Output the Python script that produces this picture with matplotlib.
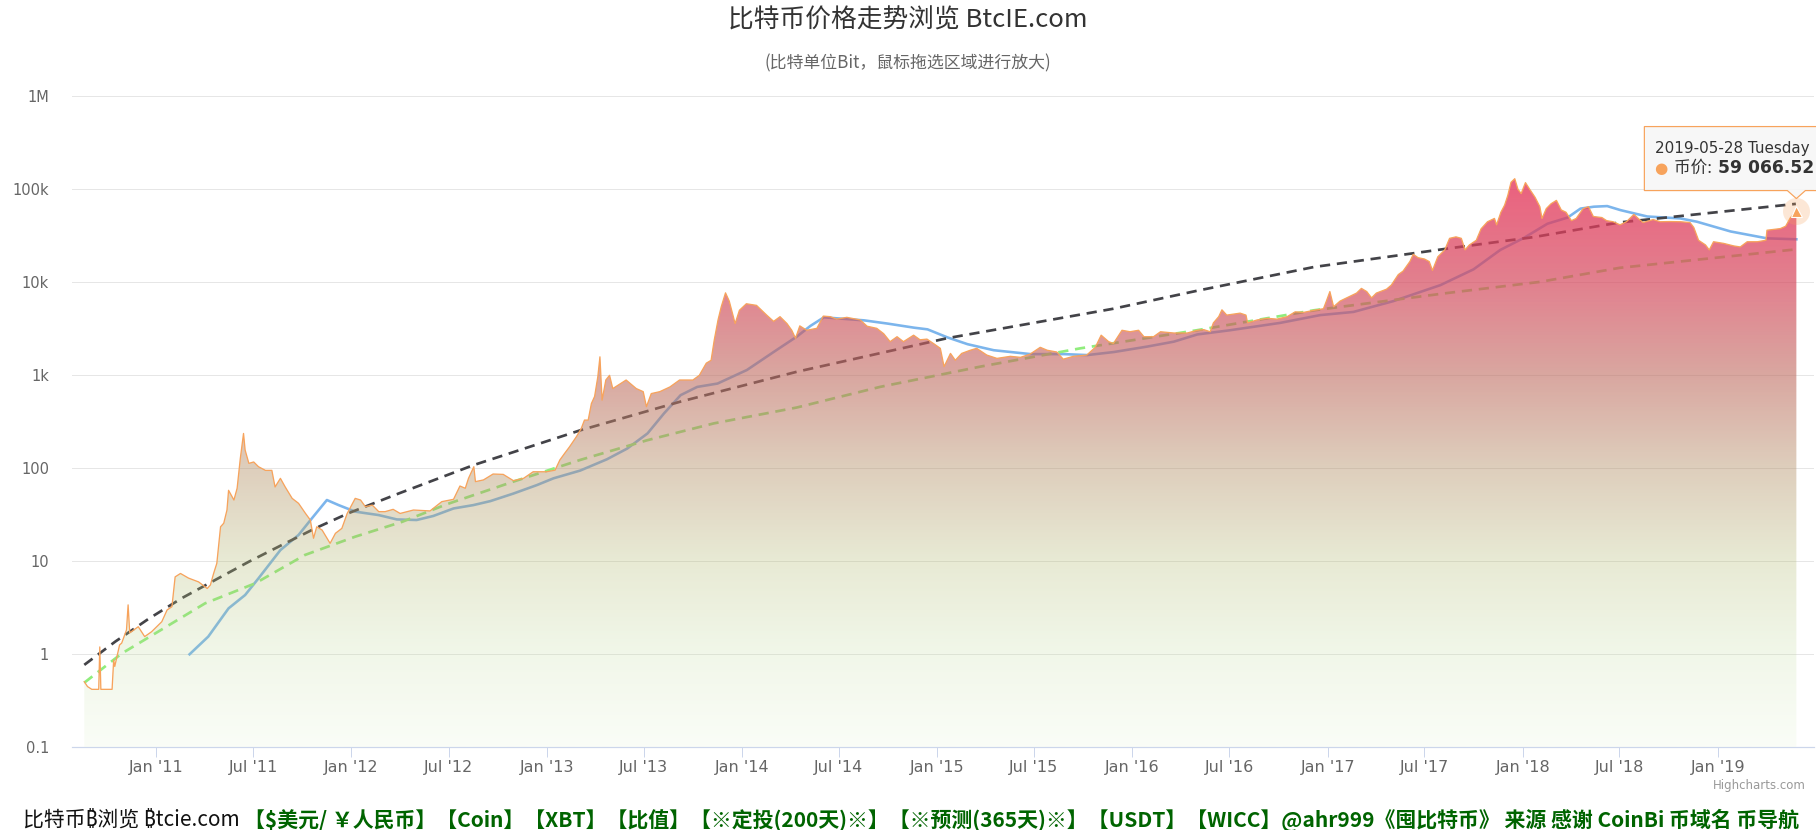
import numpy as np
import matplotlib
matplotlib.use('Agg')
import matplotlib.pyplot as plt
import matplotlib.dates as mdates
from matplotlib.ticker import NullLocator
from matplotlib.transforms import IdentityTransform
from matplotlib.patches import Polygon

plt.rcParams['font.family'] = ['Noto Sans CJK SC', 'DejaVu Sans']

# ---------------- data ----------------
price_dates = [
    '2010-08-19', '2010-08-25', '2010-09-02', '2010-09-15', '2010-09-17', '2010-09-19', '2010-10-10',
    '2010-10-13', '2010-10-15', '2010-10-24', '2010-10-28', '2010-11-06', '2010-11-09', '2010-11-12',
    '2010-11-28', '2010-12-10', '2010-12-23', '2011-01-11', '2011-01-21', '2011-01-30', '2011-02-05',
    '2011-02-15', '2011-03-02', '2011-03-21', '2011-04-06', '2011-04-12', '2011-04-18', '2011-04-24',
    '2011-05-01', '2011-05-07', '2011-05-13', '2011-05-16', '2011-05-26', '2011-06-01', '2011-06-07',
    '2011-06-13', '2011-06-16', '2011-06-23', '2011-07-02', '2011-07-11', '2011-07-24', '2011-08-05',
    '2011-08-11', '2011-08-21', '2011-08-30', '2011-09-12', '2011-09-24', '2011-10-07', '2011-10-16',
    '2011-10-22', '2011-10-28', '2011-11-07', '2011-11-22', '2011-12-02', '2011-12-14', '2011-12-24',
    '2012-01-08', '2012-01-18', '2012-01-27', '2012-02-09', '2012-02-21', '2012-03-04', '2012-03-19',
    '2012-04-01', '2012-04-26', '2012-05-27', '2012-06-18', '2012-07-10', '2012-07-22', '2012-08-01',
    '2012-08-07', '2012-08-17', '2012-08-20', '2012-09-04', '2012-09-22', '2012-10-11', '2012-10-30',
    '2012-11-18', '2012-12-06', '2012-12-31', '2013-01-16', '2013-01-25', '2013-02-03', '2013-02-12',
    '2013-02-25', '2013-03-06', '2013-03-12', '2013-03-19', '2013-03-25', '2013-03-31', '2013-04-06',
    '2013-04-10', '2013-04-14', '2013-04-21', '2013-04-28', '2013-05-04', '2013-05-29', '2013-06-17',
    '2013-06-30', '2013-07-06', '2013-07-15', '2013-07-31', '2013-08-19', '2013-09-06', '2013-10-01',
    '2013-10-13', '2013-10-26', '2013-11-04', '2013-11-10', '2013-11-17', '2013-11-23', '2013-12-01',
    '2013-12-08', '2013-12-19', '2013-12-27', '2014-01-09', '2014-01-28', '2014-02-16', '2014-03-01',
    '2014-03-13', '2014-03-26', '2014-04-04', '2014-04-11', '2014-04-19', '2014-05-02', '2014-05-21',
    '2014-06-02', '2014-06-15', '2014-06-27', '2014-07-16', '2014-08-10', '2014-08-23', '2014-09-10',
    '2014-09-23', '2014-10-05', '2014-10-18', '2014-10-30', '2014-11-18', '2014-11-30', '2014-12-13',
    '2014-12-25', '2015-01-07', '2015-01-14', '2015-01-26', '2015-02-04', '2015-02-16', '2015-03-04',
    '2015-03-16', '2015-04-04', '2015-04-23', '2015-05-18', '2015-06-06', '2015-06-24', '2015-07-13',
    '2015-07-26', '2015-08-13', '2015-08-25', '2015-09-13', '2015-10-08', '2015-10-24', '2015-11-04',
    '2015-11-18', '2015-11-27', '2015-12-13', '2015-12-28', '2016-01-13', '2016-01-23', '2016-02-10',
    '2016-02-23', '2016-03-19', '2016-04-13', '2016-05-02', '2016-05-14', '2016-05-26', '2016-06-01',
    '2016-06-11', '2016-06-17', '2016-06-26', '2016-07-09', '2016-07-21', '2016-08-01', '2016-08-04',
    '2016-08-22', '2016-09-10', '2016-09-28', '2016-10-17', '2016-11-01', '2016-11-17', '2016-12-06',
    '2016-12-24', '2016-12-30', '2017-01-05', '2017-01-12', '2017-01-24', '2017-02-12', '2017-02-24',
    '2017-03-05', '2017-03-15', '2017-03-24', '2017-04-02', '2017-04-21', '2017-04-30', '2017-05-13',
    '2017-05-22', '2017-06-04', '2017-06-10', '2017-06-19', '2017-07-01', '2017-07-10', '2017-07-16',
    '2017-07-26', '2017-08-08', '2017-08-17', '2017-08-29', '2017-09-08', '2017-09-15', '2017-09-23',
    '2017-10-06', '2017-10-15', '2017-10-27', '2017-11-09', '2017-11-13', '2017-11-21', '2017-11-28',
    '2017-12-04', '2017-12-10', '2017-12-17', '2017-12-23', '2017-12-29', '2018-01-06', '2018-01-14',
    '2018-01-24', '2018-02-02', '2018-02-06', '2018-02-14', '2018-02-23', '2018-03-05', '2018-03-14',
    '2018-03-23', '2018-04-02', '2018-04-11', '2018-04-24', '2018-05-04', '2018-05-13', '2018-05-29',
    '2018-06-07', '2018-06-19', '2018-07-02', '2018-07-14', '2018-07-28', '2018-08-05', '2018-08-14',
    '2018-09-02', '2018-09-15', '2018-10-04', '2018-10-23', '2018-11-10', '2018-11-17', '2018-11-26',
    '2018-12-09', '2018-12-16', '2018-12-24', '2019-01-12', '2019-01-31', '2019-02-12', '2019-02-25',
    '2019-03-16', '2019-04-01', '2019-04-03', '2019-04-28', '2019-05-08', '2019-05-17', '2019-05-27',
    '2019-05-28',
]
price_values = [
    0.507, 0.45, 0.42, 0.42, 1.2, 0.42, 0.42,
    0.87, 0.74, 1.26, 1.32, 1.83, 3.4, 1.7,
    1.98, 1.55, 1.75, 2.24, 3.0, 3.25, 6.8,
    7.4, 6.6, 6.0, 5.1, 5.56, 7.4, 9.5,
    23.5, 25.7, 35.6, 58, 45.6, 61, 128,
    237, 157, 113, 117, 104, 95, 95,
    63, 78, 63, 47.5, 42, 32.7, 27.8,
    17.7, 23.5, 21.7, 15.6, 20, 22.6, 32.7,
    47.5, 45.6, 38.7, 40.2, 34.2, 34.2, 36.2,
    32.7, 35.6, 34.8, 43.8, 46.4, 64.5, 61,
    78, 104, 71.9, 75, 86.8, 86, 73.7,
    78, 91.8, 91.8, 95.5, 123, 145, 170,
    219, 268, 330, 330, 497, 592, 962,
    1580, 540, 890, 1000, 720, 890, 720,
    667, 460, 636, 667, 750, 890, 890,
    1000, 1350, 1450, 2410, 3940, 5460, 7700,
    6280, 3600, 5000, 5880, 5650, 4440, 3800,
    4270, 3600, 3050, 2500, 3400, 3050, 3200,
    4330, 4270, 4020, 4200, 3940, 3370, 3200,
    2800, 2300, 2600, 2300, 2700, 2410, 2450,
    2200, 1950, 1240, 1720, 1450, 1720, 1860,
    1950, 1650, 1520, 1600, 1560, 1690, 2000,
    1860, 1780, 1490, 1600, 1650, 2000, 2700,
    2300, 2200, 3050, 2940, 3050, 2600, 2600,
    2940, 2850, 2850, 3050, 3100, 2940, 3660,
    4270, 5060, 4440, 4550, 4660, 4440, 3660,
    3940, 4100, 4020, 4270, 4810, 4750, 5000,
    5200, 6400, 7950, 5460, 6280, 7090, 7660,
    8600, 7950, 6800, 7660, 8430, 9330, 12100,
    13200, 16800, 20000, 18400, 17800, 16700, 13400,
    18800, 22300, 29700, 30800, 29700, 22300, 25200,
    28300, 37600, 44800, 48600, 41500, 56600, 67500,
    86000, 119000, 130000, 100000, 90000, 118000, 100000,
    82000, 65000, 48600, 62000, 70000, 76000, 60000,
    56600, 46000, 48600, 62000, 65000, 51000, 49700,
    46000, 44800, 41500, 44800, 53700, 48600, 43900,
    47300, 44800, 45000, 44800, 43900, 38900, 28300,
    25200, 22300, 27300, 26200, 24600, 24000, 27300,
    27300, 28300, 36300, 37800, 40100, 49700, 56600,
    59066.52,
]

# 200-day moving average (blue)
ma_dates = [
    '2011-03-04', '2011-04-08', '2011-05-16', '2011-06-16', '2011-07-11', '2011-08-21', '2011-09-24',
    '2011-10-19', '2011-11-16', '2011-12-08', '2012-01-08', '2012-02-21', '2012-03-26', '2012-05-02',
    '2012-06-02', '2012-07-10', '2012-08-16', '2012-09-17', '2012-10-30', '2012-12-13', '2013-01-13',
    '2013-03-04', '2013-04-23', '2013-05-31', '2013-07-08', '2013-08-08', '2013-09-08', '2013-10-09',
    '2013-11-16', '2014-01-10', '2014-03-01', '2014-04-14', '2014-05-09', '2014-06-03', '2014-07-17',
    '2014-08-17', '2014-09-30', '2014-11-19', '2014-12-14', '2015-01-20', '2015-02-27', '2015-04-17',
    '2015-06-25', '2015-08-26', '2015-10-09', '2015-11-28', '2016-01-30', '2016-03-19', '2016-05-02',
    '2016-07-02', '2016-10-04', '2016-12-18', '2017-02-18', '2017-05-04', '2017-07-31', '2017-10-01',
    '2017-11-20', '2018-01-03', '2018-02-16', '2018-03-26', '2018-04-19', '2018-05-14', '2018-06-08',
    '2018-07-03', '2018-08-22', '2018-10-23', '2018-11-23', '2019-01-25', '2019-04-03', '2019-05-28',
]
ma_values = [
    1.0, 1.55, 3.12, 4.34, 6.56, 13.2, 19.2,
    29, 45.6, 40.2, 34.2, 31.4, 28.2, 27.8,
    30.7, 37, 40.2, 44.4, 53.5, 66, 78,
    94.5, 125, 163, 237, 390, 612, 750,
    815, 1140, 1780, 2620, 3400, 4200, 4020,
    3900, 3600, 3250, 3120, 2560, 2160, 1860,
    1690, 1690, 1650, 1780, 2040, 2300, 2750,
    3050, 3660, 4440, 4800, 6280, 9330, 13800,
    22300, 30000, 42600, 49700, 62000, 65000, 66000,
    59700, 51000, 48600, 44800, 35200, 29700, 29000,
]

# upper trend line (dark dashed)
trend_hi_dates = [
    '2010-08-19', '2010-10-16', '2010-12-17', '2011-02-17', '2011-04-21', '2011-06-23', '2011-08-24',
    '2011-10-25', '2011-12-27', '2012-03-29', '2012-08-16', '2013-03-04', '2013-09-07', '2014-04-13',
    '2015-01-19', '2015-11-27', '2016-05-01', '2016-12-06', '2017-08-12', '2018-01-21', '2018-07-01',
    '2019-05-27',
]
trend_hi_values = [
    0.77, 1.37, 2.4, 4.0, 6.3, 9.9, 15,
    22.6, 33, 53.5, 108, 256, 520, 1090,
    2500, 5200, 8100, 14600, 23000, 30600, 44000,
    69700,
]

# lower trend line (green dashed)
trend_lo_dates = [
    '2010-08-19', '2010-10-28', '2010-12-30', '2011-04-02', '2011-07-05', '2011-10-06', '2012-01-08',
    '2012-04-05', '2012-06-27', '2012-10-30', '2013-03-04', '2013-07-07', '2013-11-09', '2014-04-13',
    '2014-09-16', '2015-03-23', '2015-09-26', '2016-05-01', '2016-12-06', '2017-08-12', '2018-02-02',
    '2018-07-01', '2019-05-27',
]
trend_lo_values = [
    0.495, 1.02, 1.68, 3.53, 5.8, 11.7, 18.4,
    26.6, 41, 71.9, 123, 200, 304, 450,
    750, 1240, 1950, 3050, 5000, 7660, 10100,
    14300, 22600,
]

xtick_dates = ['2011-01-01', '2011-07-01', '2012-01-01', '2012-07-01', '2013-01-01', '2013-07-01',
               '2014-01-01', '2014-07-01', '2015-01-01', '2015-07-01', '2016-01-01', '2016-07-01',
               '2017-01-01', '2017-07-01', '2018-01-01', '2018-07-01', '2019-01-01']
xtick_labels = ["Jan '11", "Jul '11", "Jan '12", "Jul '12", "Jan '13", "Jul '13", "Jan '14", "Jul '14",
                "Jan '15", "Jul '15", "Jan '16", "Jul '16", "Jan '17", "Jul '17", "Jan '18", "Jul '18",
                "Jan '19"]
ytick_values = [0.1, 1, 10, 100, 1e3, 1e4, 1e5, 1e6]
ytick_labels = ['0.1', '1', '10', '100', '1k', '10k', '100k', '1M']

title_text = '比特币价格走势浏览 BtcIE.com'
subtitle_text = '(比特单位Bit，鼠标拖选区域进行放大)'
tooltip_date = '2019-05-28 Tuesday'
tooltip_label = '币价: '
tooltip_value = '59 066.52'
footer_black = '比特币₿浏览 ₿tcie.com'
footer_green = ('【$美元/ ￥人民币】【Coin】【XBT】【比值】【※定投(200天)※】【※预测(365天)※】'
                '【USDT】【WICC】@ahr999《囤比特币》 来源 感谢 CoinBi 币域名 币导航')

# ---------------- figure ----------------
W, H = 1816, 830
fig = plt.figure(figsize=(W / 100, H / 100), dpi=100)
fig.patch.set_facecolor('white')
ax_left, ax_right, ax_top, ax_bottom = 72, 1814, 96.3, 747.3
ax = fig.add_axes([ax_left / W, (H - ax_bottom) / H, (ax_right - ax_left) / W, (ax_bottom - ax_top) / H])
ax.set_facecolor('none')

px_ = mdates.datestr2num(price_dates)
ma_x = mdates.datestr2num(ma_dates)
hi_x = mdates.datestr2num(trend_hi_dates)
lo_x = mdates.datestr2num(trend_lo_dates)

BLUE, DARK, GREEN, ORANGE = '#7cb5ec', '#434348', '#90ed7d', '#f7a35c'
PX = 0.72  # points per pixel

# gradient fill: opacity grows with height (green & faint at bottom, red & dense at top)
stops_f = [0.0, 0.143, 0.286, 0.429, 0.570, 0.713, 0.874, 1.0]
stops_c = [(250, 253, 247), (241, 247, 233), (232, 234, 212), (222, 206, 188),
           (217, 167, 160), (226, 128, 142), (235, 96, 126), (238, 85, 120)]
stops_a = [0.10, 0.20, 0.30, 0.45, 0.60, 0.70, 0.80, 0.82]
n = 600
fr = np.linspace(0, 1, n)
img = np.zeros((n, 1, 4))
a_col = np.interp(fr, stops_f, stops_a)
for k in range(3):
    comp = np.interp(fr, stops_f, [c[k] for c in stops_c])
    col = (comp - (1 - a_col) * 255) / a_col
    img[:, 0, k] = np.clip(col, 0, 255) / 255
img[:, 0, 3] = a_col
im = ax.imshow(img, extent=(0, 1, 0, 1), transform=ax.transAxes, origin='lower',
               aspect='auto', interpolation='bilinear', zorder=3)
poly = ax.fill_between(px_, price_values, 0.1, facecolor='none', edgecolor='none', zorder=3)
im.set_clip_path(poly.get_paths()[0], transform=ax.transData)

# helper lines
ax.plot(ma_x, ma_values, color=BLUE, lw=2.6 * PX, zorder=2, solid_joinstyle='round')
ax.plot(hi_x, trend_hi_values, color=DARK, lw=2.7 * PX, ls=(0, (3.8, 2.5)), zorder=2)
ax.plot(lo_x, trend_lo_values, color=GREEN, lw=2.7 * PX, ls=(0, (3.8, 2.5)), zorder=2)

# price line
ax.plot(px_, price_values, color=ORANGE, lw=1.3 * PX, zorder=4)

ax.set_yscale('log')
ax.set_ylim(0.1, 1e6)
ax.set_xlim(mdates.datestr2num('2010-07-27'), mdates.datestr2num('2019-06-30'))

ax.set_yticks(ytick_values, ytick_labels)
ax.yaxis.set_minor_locator(NullLocator())
ax.set_xticks(mdates.datestr2num(xtick_dates), xtick_labels)
ax.xaxis.set_minor_locator(NullLocator())
ax.yaxis.grid(True, color='#e6e6e6', lw=1.0 * PX, zorder=0)
ax.set_axisbelow(True)
for s in ['top', 'right', 'left']:
    ax.spines[s].set_visible(False)
ax.spines['bottom'].set_color('#ccd6eb')
ax.spines['bottom'].set_linewidth(1.2 * PX)
ax.spines['bottom'].set_zorder(5)
ax.tick_params(axis='y', length=0, pad=23 * PX, labelsize=10.5, labelcolor='#666666')
ax.tick_params(axis='x', length=10 * PX, width=1 * PX, color='#ccd6eb', pad=3 * PX,
               labelsize=11.5, labelcolor='#666666')
for t in ax.get_yticklabels() + ax.get_xticklabels():
    t.set_fontfamily(['DejaVu Sans'])

# end-point marker
end_x = px_[-1]
end_v = price_values[-1]
ax.plot([end_x], [end_v], 'o', ms=27 * PX, color=ORANGE, alpha=0.25, mew=0, zorder=6, clip_on=False)
ax.plot([end_x], [end_v], '^', ms=11 * PX, color=ORANGE, mec='white', mew=0.8, zorder=7, clip_on=False)

# titles
fig.text(0.5, 1 - 21 / H, title_text, ha='center', va='center', fontsize=18.5, color='#333333')
fig.text(0.5, 1 - 63 / H, subtitle_text, ha='center', va='center', fontsize=12.2, color='#666666')
fig.text(1806 / W, 1 - 785 / H, 'Highcharts.com', ha='right', va='center', fontsize=8.5,
         color='#999999', family=['DejaVu Sans'])

# tooltip
fig.canvas.draw()
pxd, pyd = ax.transData.transform((end_x, end_v))
ident = IdentityTransform()
bl, br = pxd - 152, pxd + 30
bb_, bt_ = pyd + 20, pyd + 84
tip = pyd + 12
verts = [(bl, bt_), (br, bt_), (br, bb_), (pxd + 9, bb_), (pxd, tip), (pxd - 9, bb_), (bl, bb_)]
tooltip_box = Polygon(verts, closed=True, transform=ident, facecolor=(0.969, 0.969, 0.969, 0.88),
                      edgecolor=ORANGE, lw=1.2 * PX, zorder=20)
fig.add_artist(tooltip_box)
fig.text(bl + 11, pyd + 62, tooltip_date, transform=ident, ha='left', va='center', fontsize=10.9,
         color='#333333', family=['DejaVu Sans'], zorder=21)
fig.text(bl + 16, pyd + 42.5, '●', transform=ident, ha='center', va='center', fontsize=11,
         color=ORANGE, family=['DejaVu Sans'], zorder=21)
t_lab = fig.text(bl + 30, pyd + 42.5, tooltip_label, transform=ident, ha='left', va='center',
                 fontsize=12, color='#333333', zorder=21)
fig.canvas.draw()
r = fig.canvas.get_renderer()
lab_bb = t_lab.get_window_extent(r)
fig.text(lab_bb.x1 + 2, pyd + 42.5, tooltip_value, transform=ident, ha='left', va='center',
         fontsize=12.3, fontweight='bold', color='#333333', family=['DejaVu Sans'], zorder=21)

# footer
tb = fig.text(23 / W, 10 / H, footer_black, ha='left', va='center', fontsize=12, color='#111111',
              family=['Noto Sans CJK SC', 'Noto Sans', 'DejaVu Sans'])
tg = fig.text(244 / W, 10 / H, footer_green, ha='left', va='center', fontsize=12, color='#006400',
              fontweight='bold', family=['Noto Sans CJK SC', 'DejaVu Sans'])
fig.canvas.draw()
for t, target in [(tb, 217), (tg, 1557)]:
    w = t.get_window_extent(r).width
    t.set_fontsize(t.get_fontsize() * target / w)

fig.savefig('out.png', dpi=100, facecolor='white')
